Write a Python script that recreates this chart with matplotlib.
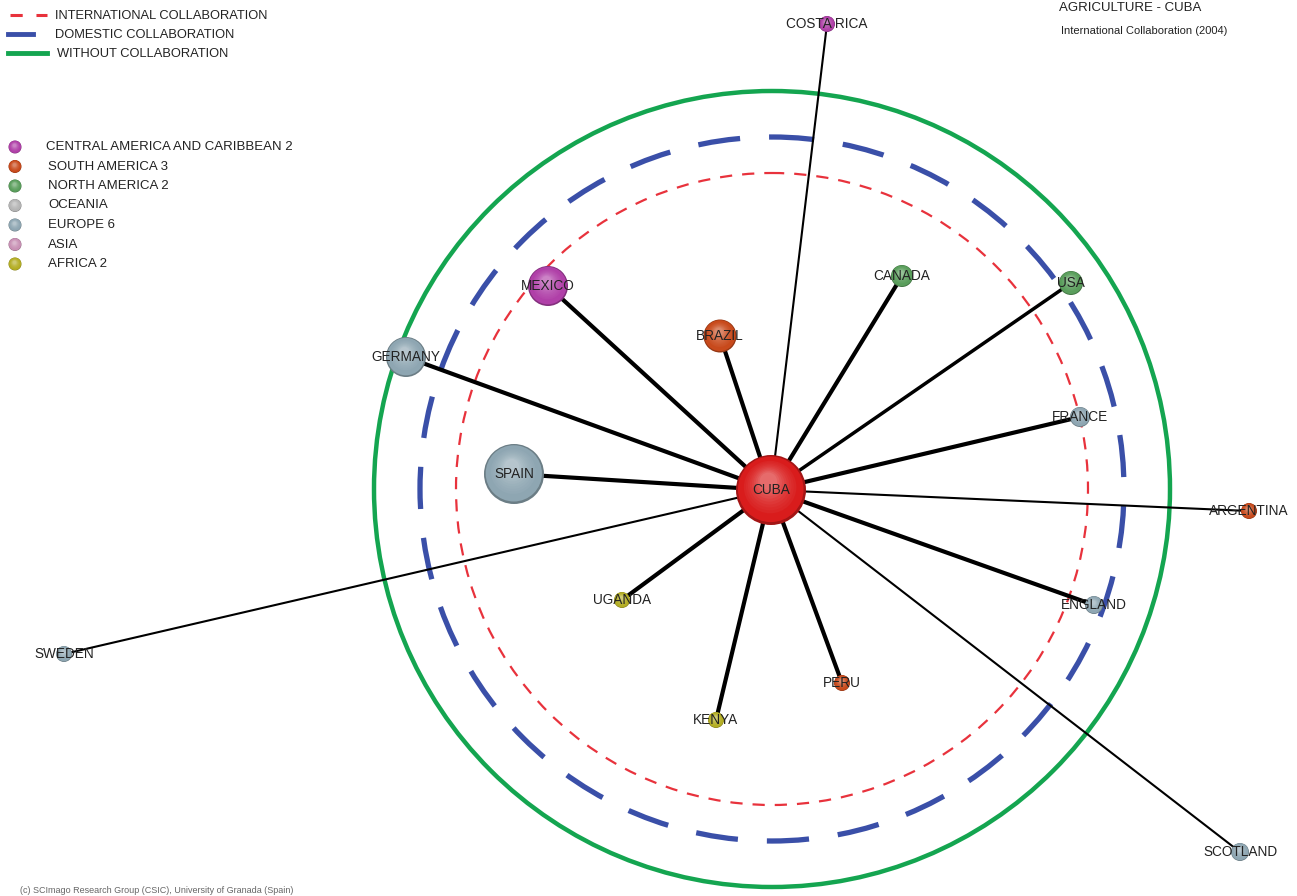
import matplotlib.pyplot as plt
import matplotlib.colors as mc
from matplotlib.patches import Circle
from matplotlib.lines import Line2D

plt.rcParams['font.family'] = ['Liberation Sans', 'DejaVu Sans']

# node data (layout in pixel space of the original map)
countries = ['CUBA', 'SPAIN', 'MEXICO', 'GERMANY', 'BRAZIL', 'CANADA', 'USA',
             'FRANCE', 'ARGENTINA', 'ENGLAND', 'SCOTLAND', 'PERU', 'KENYA',
             'UGANDA', 'SWEDEN', 'COSTA RICA']
node_x = [771, 514, 548, 406, 720, 902, 1071, 1080, 1249, 1094, 1240, 842, 716, 622, 64, 827]
node_y = [490, 474, 286, 357, 336, 276, 283, 417, 511, 605, 852, 683, 720, 600, 654, 24]
node_size = [70, 60, 40, 40, 33, 22, 24, 20, 16, 18, 18, 16, 16, 16, 16, 16]
region = ['CUBA', 'EU', 'CA', 'EU', 'SA', 'NA', 'NA', 'EU', 'SA', 'EU', 'EU', 'SA',
          'AF', 'AF', 'EU', 'CA']
edge_weight = [0, 3, 3, 3, 3, 3, 2.5, 3, 1.5, 3, 1.5, 3, 3, 3, 1.5, 1.5]

region_colors = {'CUBA': '#d91c1c', 'CA': '#b040a8', 'SA': '#c84a1c', 'NA': '#5a9e5c',
                 'OC': '#b4b4b4', 'EU': '#8ea6b2', 'AS': '#c890b4', 'AF': '#b4ae24'}
legend_regions = ['CA', 'SA', 'NA', 'OC', 'EU', 'AS', 'AF']
legend_labels = ['CENTRAL AMERICA AND CARIBBEAN 2', 'SOUTH AMERICA 3', 'NORTH AMERICA 2',
                 'OCEANIA', 'EUROPE 6', 'ASIA', 'AFRICA 2']

ring_labels = ['INTERNATIONAL COLLABORATION', 'DOMESTIC COLLABORATION', 'WITHOUT COLLABORATION']
ring_radius = [316, 352, 398]


def lighten(c, f):
    r, g, b = mc.to_rgb(c)
    return (r + (1 - r) * f, g + (1 - g) * f, b + (1 - b) * f)


def darken(c, f):
    r, g, b = mc.to_rgb(c)
    return (r * (1 - f), g * (1 - f), b * (1 - f))


def ball(ax, x, y, d, color):
    """fake shaded sphere with stacked circles"""
    r = d / 2
    ax.add_patch(Circle((x, y), r, facecolor=darken(color, 0.25), edgecolor='none', zorder=5))
    steps = 12
    for i in range(1, steps + 1):
        f = i / steps
        rr = r * (1 - 0.75 * f)
        off = r * 0.25 * f
        ax.add_patch(Circle((x - off * 0.3, y - off), rr,
                            facecolor=lighten(color, 0.35 * f ** 2) if f > 0.3 else color,
                            edgecolor='none', zorder=5))


fig = plt.figure(figsize=(12.97, 8.96), dpi=100)
ax = fig.add_axes([0, 0, 1, 1])
ax.set_xlim(0, 1297)
ax.set_ylim(896, 0)
ax.set_aspect('equal')
ax.axis('off')

# rings around Cuba
cx, cy = 772, 489
ax.add_patch(Circle((cx, cy), ring_radius[0], fill=False, edgecolor='#e8323c',
                    lw=1.6, ls=(0, (5.5, 4.5)), zorder=2))
ax.add_patch(Circle((cx, cy), ring_radius[1], fill=False, edgecolor='#3a4fa8',
                    lw=3.8, ls=(0, (8, 5.5)), zorder=2))
ax.add_patch(Circle((cx, cy), ring_radius[2], fill=False, edgecolor='#14a550',
                    lw=3.2, zorder=2))

# edges
for i in range(1, len(countries)):
    ax.plot([node_x[0], node_x[i]], [node_y[0], node_y[i]], color='black',
            lw=edge_weight[i], zorder=3, solid_capstyle='round')

# nodes
for i in range(len(countries)):
    ball(ax, node_x[i], node_y[i], node_size[i], region_colors[region[i]])
    ax.text(node_x[i], node_y[i], countries[i], fontsize=9.8, ha='center', va='center',
            color='#222222', zorder=6)

# ring legend
ring_lines = [([10, 47], dict(color='#e8323c', lw=2.2, ls=(0, (4, 4.5)))),
              ([8, 33], dict(color='#3a4fa8', lw=3.5, ls='-')),
              ([8, 47], dict(color='#14a550', lw=3.5, ls='-'))]
text_x = [55, 55, 57]
for k, lab in enumerate(ring_labels):
    y = 15 + k * 19
    xs, style = ring_lines[k]
    ax.add_line(Line2D(xs, [y, y], **style))
    ax.text(text_x[k], y + 1, lab, fontsize=9.3, va='center', color='#222222')

# region legend
for k, (reg, lab) in enumerate(zip(legend_regions, legend_labels)):
    y = 147 + k * 19.5
    ball(ax, 15, y, 13, region_colors[reg])
    ax.text(46 if k == 0 else 48, y, lab, fontsize=9.5, va='center', color='#222222')

ax.text(1059, 8, 'AGRICULTURE - CUBA', fontsize=9.5, va='center', color='#222222')
ax.text(1061, 31, 'International Collaboration (2004)', fontsize=8, va='center',
        color='#222222')
ax.text(20, 895, '(c) SCImago Research Group (CSIC), University of Granada (Spain)',
        fontsize=6.5, va='bottom', color='#666666')

fig.savefig('out.png', dpi=100)
